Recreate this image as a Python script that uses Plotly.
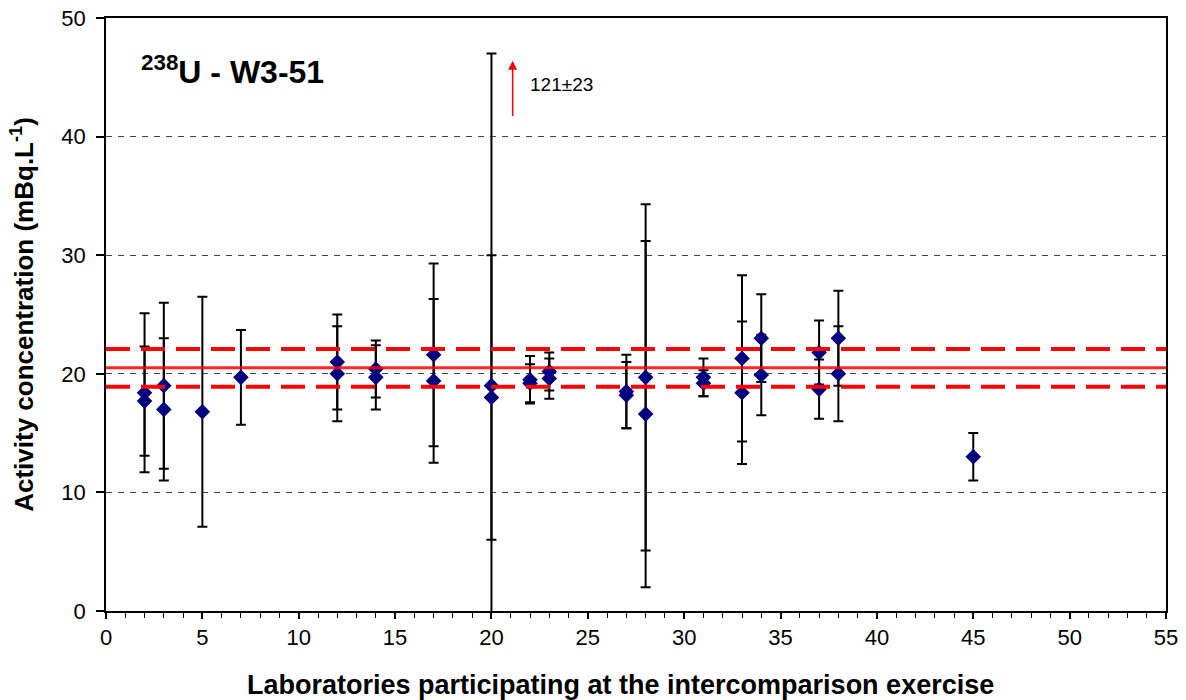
import plotly.graph_objects as go

# ---- data ----
labs = [2, 2, 3, 3, 5, 7, 12, 12, 14, 14, 17, 17, 20, 20, 22, 22, 23, 23,
        27, 27, 28, 28, 31, 31, 33, 33, 34, 34, 37, 37, 38, 38, 45]
activity = [18.4, 17.7, 19.0, 17.0, 16.8, 19.7, 21.0, 20.0, 20.4, 19.7, 21.6, 19.4,
            19.0, 18.0, 19.5, 19.2, 20.2, 19.6, 18.5, 18.2, 19.7, 16.6, 19.7, 19.2,
            21.3, 18.4, 23.0, 19.9, 21.8, 18.7, 23.0, 20.0, 13.0]
uncert = [6.7, 4.6, 7.0, 6.0, 9.7, 4.0, 4.0, 4.0, 2.4, 2.7, 7.7, 6.9,
          28.0, 12.0, 2.0, 1.6, 1.6, 1.7, 3.1, 2.8, 14.6, 14.6, 1.6, 1.1,
          7.0, 6.0, 3.7, 3.4, 2.7, 2.5, 4.0, 4.0, 2.0]

ref_value = 20.5
ref_upper = 22.1
ref_lower = 18.9

outlier_lab = 21.1
outlier_label = "121±23"
arrow_from = 41.6
arrow_to = 46.4

x_ticks = list(range(0, 60, 5))
y_ticks = list(range(0, 60, 10))

FONT = "Liberation Sans, Arial, sans-serif"

fig = go.Figure()

fig.add_trace(go.Scatter(
    x=labs, y=activity, mode="markers",
    marker=dict(symbol="diamond", size=12, color="#000080", line=dict(width=0)),
    error_y=dict(type="data", array=uncert, visible=True, color="black",
                 thickness=2, width=5),
    showlegend=False,
))

# reference lines
for yv, dash, w, col in [(ref_upper, "24px,11px", 4, "#ff0000"),
                         (ref_lower, "24px,11px", 4, "#ff0000"),
                         (ref_value, "solid", 3, "rgba(255,0,0,0.85)")]:
    fig.add_shape(type="line", xref="x", yref="y", x0=0, x1=55, y0=yv, y1=yv,
                  line=dict(color=col, width=w, dash=dash), layer="above")

# outlier arrow
fig.add_annotation(x=outlier_lab, y=arrow_to, ax=outlier_lab, ay=arrow_from,
                   xref="x", yref="y", axref="x", ayref="y", text="",
                   showarrow=True, arrowhead=2, arrowsize=1.2, arrowwidth=1.5,
                   arrowcolor="#ff0000")
fig.add_annotation(x=outlier_lab + 0.8, y=(arrow_from + arrow_to) / 2 + 0.4,
                   xref="x", yref="y", text=outlier_label, showarrow=False,
                   xanchor="left", yanchor="middle",
                   font=dict(family=FONT, size=19, color="black"))

# title
fig.add_annotation(x=0.031, y=0.912, xref="paper", yref="paper",
                   text="<b><sup>238</sup>U - W3-51</b>", showarrow=False,
                   xanchor="left", yanchor="middle",
                   font=dict(family=FONT, size=32, color="black"))

# x-axis title (as annotation for exact placement)
fig.add_annotation(x=0.485, y=-0.125, xref="paper", yref="paper",
                   text="<b>Laboratories participating at the intercomparison exercise</b>",
                   showarrow=False, xanchor="center", yanchor="middle",
                   font=dict(family=FONT, size=27, color="black"))

fig.update_xaxes(
    range=[0, 55], tickvals=x_ticks, ticktext=[str(v) for v in x_ticks],
    showgrid=False, zeroline=False, automargin=False,
    showline=True, linecolor="black", linewidth=1.5, mirror=True,
    ticks="outside", ticklen=6, tickwidth=1.5, tickcolor="black",
    minor=dict(dtick=1, ticks="outside", ticklen=5, tickwidth=1, tickcolor="black", showgrid=False),
    tickfont=dict(family=FONT, size=22, color="black"),
)
fig.update_yaxes(
    range=[0, 50], tickvals=y_ticks, ticktext=[str(v) for v in y_ticks],
    showgrid=True, gridcolor="#444444", gridwidth=1, griddash="6px,6px",
    zeroline=False, automargin=False,
    showline=True, linecolor="black", linewidth=1.5, mirror=True,
    ticks="outside", ticklen=8, tickwidth=1.5, tickcolor="black",
    ticklabelstandoff=6,
    tickfont=dict(family=FONT, size=22, color="black"),
    title=dict(text="<b>Activity concentration (mBq.L<sup>-1</sup>)</b>",
               font=dict(family=FONT, size=26, color="black"), standoff=20),
)

fig.update_layout(
    width=1186, height=700,
    margin=dict(l=106, r=20, t=18, b=89),
    plot_bgcolor="white", paper_bgcolor="white",
)

fig.write_html("out.html")
